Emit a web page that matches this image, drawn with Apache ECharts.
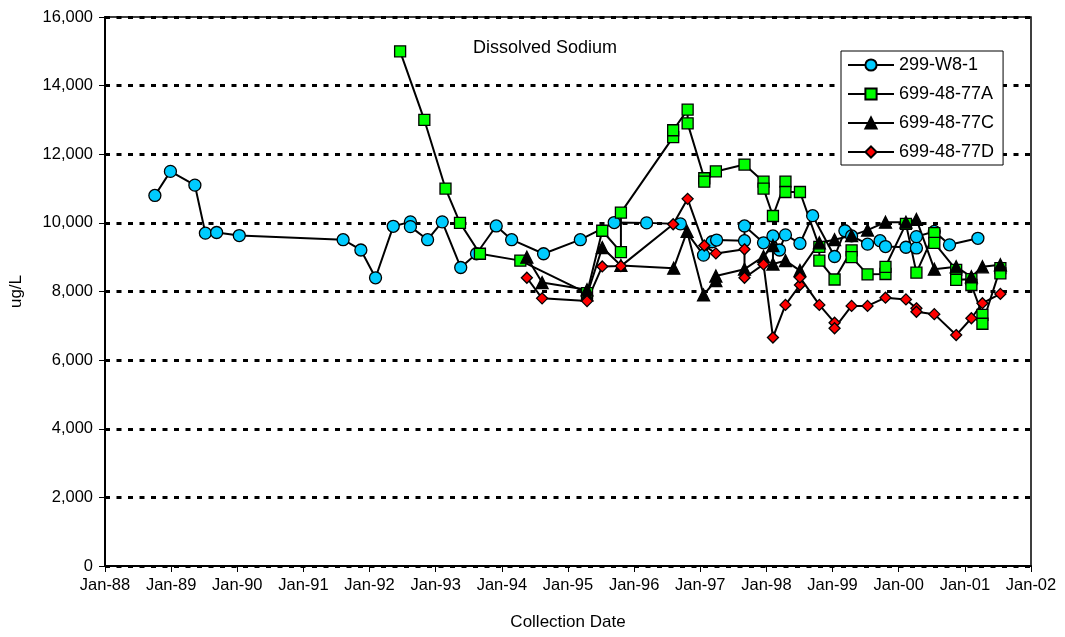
<!DOCTYPE html>
<html>
<head>
<meta charset="utf-8">
<script src="https://cdn.jsdelivr.net/npm/echarts@6/dist/echarts.min.js"></script>
<style>
html,body{margin:0;padding:0;background:#fff;}
#chart{width:1065px;height:637px;}
</style>
</head>
<body>
<div id="chart"></div>
<script>
// ---- Data ----
var seriesNames = ['299-W8-1', '699-48-77A', '699-48-77C', '699-48-77D'];

var w81Dates = ['1988-10-03','1988-12-28','1989-05-12','1989-07-09','1989-09-09','1990-01-12','1991-08-08','1991-11-14','1992-02-03','1992-05-11','1992-08-14','1992-08-14','1992-11-17','1993-02-06','1993-05-19','1993-08-14','1993-12-01','1994-02-24','1994-08-19','1995-03-10','1995-09-13','1996-03-10','1996-09-13','1997-01-19','1997-03-07','1997-04-01','1997-09-02','1997-09-02','1997-12-16','1998-02-06','1998-03-14','1998-04-16','1998-07-05','1998-09-13','1999-01-12','1999-03-10','1999-04-16','1999-07-13','1999-09-20','1999-10-20','2000-02-10','2000-04-08','2000-04-08','2000-07-16','2000-10-08','2001-03-14'];
var w81Values = [10800,11500,11100,9700,9720,9630,9510,9210,8400,9900,10030,9890,9510,10030,8700,9100,9910,9510,9100,9510,10010,10000,9970,9060,9450,9500,9480,9910,9420,9620,9210,9650,9400,10210,9020,9770,9620,9380,9480,9310,9290,9270,9600,9750,9360,9550];

var a77Dates = ['1992-06-18','1992-10-30','1993-02-24','1993-05-15','1993-09-02','1994-04-13','1995-04-16','1995-07-09','1995-10-20','1995-10-20','1996-08-04','1996-08-04','1996-10-23','1996-10-23','1997-01-23','1997-01-23','1997-03-28','1997-09-02','1997-12-16','1997-12-16','1998-02-06','1998-04-16','1998-04-16','1998-07-05','1998-10-20','1998-10-20','1999-01-12','1999-04-16','1999-04-16','1999-07-13','1999-10-20','1999-10-20','2000-02-10','2000-04-08','2000-07-16','2000-07-16','2000-11-14','2000-11-14','2001-02-06','2001-02-06','2001-04-08','2001-04-08','2001-07-16','2001-07-16'];
var a77Values = [15000,13000,11000,10000,9100,8900,7950,9770,9150,10300,12500,12700,13300,12900,11300,11200,11500,11700,11200,11000,10200,11200,10900,10900,9300,8900,8350,9200,9000,8500,8510,8720,9970,8550,9700,9420,8630,8340,8360,8190,7320,7060,8680,8530];

var c77Dates = ['1994-05-19','1994-08-11','1995-04-16','1995-04-16','1995-07-09','1995-10-20','1996-08-07','1996-10-20','1997-01-19','1997-03-28','1997-03-28','1997-09-02','1997-12-16','1998-02-06','1998-02-06','1998-04-16','1998-07-05','1998-10-20','1999-01-12','1999-04-16','1999-07-13','1999-10-20','2000-02-10','2000-04-08','2000-07-16','2000-11-14','2001-02-06','2001-04-08','2001-07-16'];
var c77Values = [9000,8260,8050,7900,9280,8760,8680,9750,7900,8320,8450,8650,9020,9340,8800,8900,8610,9420,9510,9630,9790,10020,10020,10100,8650,8720,8430,8720,8780];

var d77Dates = ['1994-05-19','1994-08-11','1995-04-16','1995-07-09','1995-10-20','1996-08-04','1996-10-23','1997-01-23','1997-03-28','1997-09-02','1997-09-02','1997-12-16','1998-02-06','1998-04-16','1998-07-05','1998-07-05','1998-10-20','1999-01-12','1999-01-12','1999-04-16','1999-07-13','1999-10-20','2000-02-10','2000-04-08','2000-04-08','2000-07-16','2000-11-14','2001-02-06','2001-04-08','2001-07-16'];
var d77Values = [8400,7800,7720,8730,8740,9960,10700,9340,9110,9230,8400,8790,6660,7610,8190,8410,7610,7090,6930,7580,7580,7820,7770,7510,7410,7340,6730,7220,7660,7930];

var xTickYears = [1988,1989,1990,1991,1992,1993,1994,1995,1996,1997,1998,1999,2000,2001,2002];
var yTicks = [0,2000,4000,6000,8000,10000,12000,14000,16000];

// ---- helpers ----
function toYear(s){
  var p = s.split('-');
  var y = +p[0], m = +p[1], d = +p[2];
  var start = Date.UTC(y,0,1), end = Date.UTC(y+1,0,1);
  return y + (Date.UTC(y,m-1,d) - start)/(end - start);
}
function pairs(dates, vals){
  return dates.map(function(d,i){ return [toYear(d), vals[i]]; });
}

var font = '"Liberation Sans", Arial, sans-serif';
var chart = echarts.init(document.getElementById('chart'), null, {renderer:'canvas'});

function mkSeries(name, data, symbol, size, color){
  return {
    name: name, type: 'line', data: data,
    symbol: symbol, symbolSize: size,
    lineStyle: {color:'#000', width: 2},
    itemStyle: {color: color, borderColor:'#000', borderWidth: 1.3},
    emphasis: {disabled: true},
    animation: false
  };
}

chart.setOption({
  animation: false,
  backgroundColor: '#fff',
  title: {
    text: 'Dissolved Sodium',
    left: 540, top: 34, textAlign: 'center',
    textStyle: {fontFamily: font, fontSize: 18, fontWeight: 'normal', color:'#000'}
  },
  legend: {
    orient: 'vertical',
    left: 841, top: 51,
    backgroundColor: '#fff',
    borderColor: '#000', borderWidth: 1,
    padding: [5, 9, 4, 6],
    itemWidth: 46, itemHeight: 14, itemGap: 11,
    textStyle: {fontFamily: font, fontSize: 18, color:'#000'},
    data: seriesNames
  },
  grid: {left: 104, right: 34, top: 17, bottom: 71, show: true, borderColor:'#000', borderWidth: 1.5},
  xAxis: {
    type: 'value', min: 1988, max: 2002, interval: 1,
    name: 'Collection Date', nameLocation: 'middle', nameGap: 48,
    nameTextStyle: {fontFamily: font, fontSize: 17, color:'#000'},
    axisLine: {show: true, lineStyle: {color:'#000', width: 2}},
    axisTick: {show: true, length: 6, lineStyle: {color:'#000', width: 1}},
    axisLabel: {
      fontFamily: font, fontSize: 16.5, color:'#000', margin: 11,
      formatter: function(v){
        var y = Math.round(v);
        if (xTickYears.indexOf(y) < 0) return '';
        return 'Jan-' + String(y).slice(2);
      }
    },
    splitLine: {show: false}
  },
  yAxis: {
    type: 'value', min: 0, max: 16000, interval: 2000,
    name: 'ug/L', nameLocation: 'middle', nameGap: 80, nameRotate: 90,
    nameTextStyle: {fontFamily: font, fontSize: 17, color:'#000'},
    axisLine: {show: true, lineStyle: {color:'#000', width: 2}},
    axisTick: {show: true, length: 6, lineStyle: {color:'#000', width: 1}},
    axisLabel: {
      fontFamily: font, fontSize: 16.5, color:'#000', margin: 12,
      formatter: function(v){ return yTicks.indexOf(v) >= 0 ? v.toLocaleString('en-US') : ''; }
    },
    splitLine: {show: true, lineStyle: {color:'#000', width: 3, type: [5, 6.5]}}
  },
  series: [
    mkSeries(seriesNames[0], pairs(w81Dates, w81Values), 'circle', 12, '#00CCFF'),
    mkSeries(seriesNames[1], pairs(a77Dates, a77Values), 'rect', 11, '#00FF00'),
    mkSeries(seriesNames[2], pairs(c77Dates, c77Values), 'triangle', 12, '#000000'),
    mkSeries(seriesNames[3], pairs(d77Dates, d77Values), 'diamond', 11, '#FF0000')
  ]
});
</script>
</body>
</html>
